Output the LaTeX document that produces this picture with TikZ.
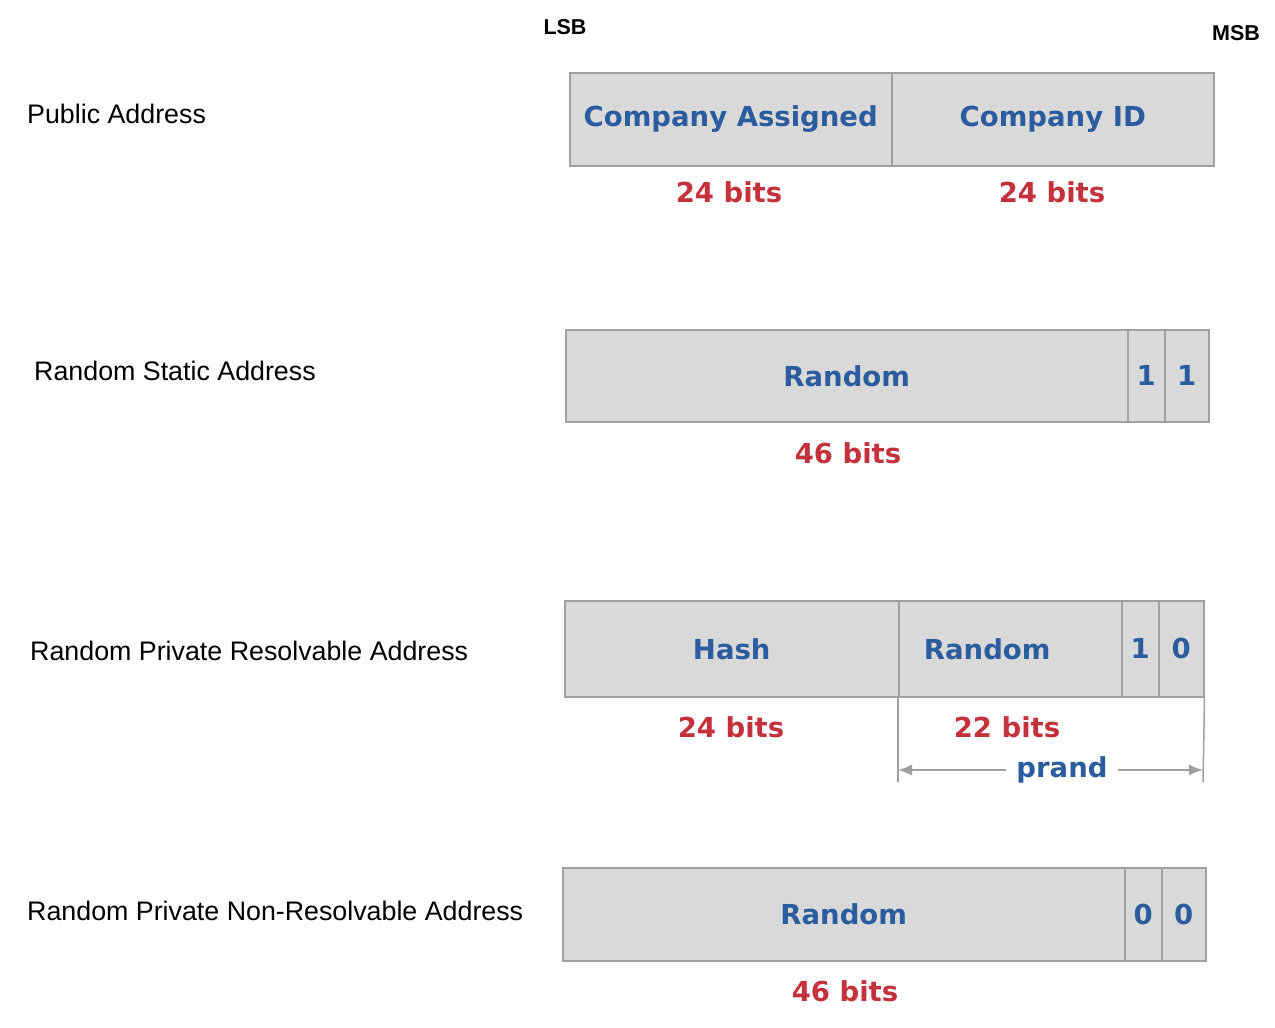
\documentclass[tikz,border=0pt]{standalone}
\usepackage{fontspec}
\setmainfont{Liberation Sans}
\newfontfamily\cellfont{DejaVu Sans}
\usetikzlibrary{arrows.meta,positioning}
\definecolor{cellfill}{HTML}{D9D9D9}
\definecolor{cellline}{HTML}{A0A0A0}
\definecolor{fieldblue}{HTML}{2B5C9E}
\definecolor{bitsred}{HTML}{C4313B}
\begin{document}
\begin{tikzpicture}[x=1pt,y=-1pt,
  cell/.style={draw=cellline,fill=cellfill,line width=1.5pt,anchor=north west,
    minimum height=93pt,inner sep=0pt,text=fieldblue,
    font=\cellfont\bfseries\fontsize{27.5}{30}\selectfont},
  bits/.style={text=bitsred,inner sep=0pt,
    font=\cellfont\bfseries\fontsize{27.5}{30}\selectfont},
  addr/.style={anchor=west,inner sep=0pt,font=\fontsize{26.8}{30}\selectfont},
  edge/.style={font=\bfseries\fontsize{21.5}{24}\selectfont,inner sep=0pt}]
\useasboundingbox (0,0) rectangle (1275,1028);

\node[edge] (lsb) at (565,27) {LSB};
\node[edge] (msb) at (1236,33) {MSB};

% public address
\node[addr] (pub) at (27,114) {Public Address};
\node[cell,minimum width=322pt] (pubca) at (569,72) {Company Assigned};
\node[cell,minimum width=322pt] (pubid) at (891,72) {Company ID};
\node[bits] (pubcabits) at (729,192) {24 bits};
\node[bits] (pubidbits) at (1052,192) {24 bits};

% random static
\node[addr] (rs) at (34,371) {Random Static Address};
\node[cell,minimum width=562pt,minimum height=92pt] (rsrnd) at (565,329) {Random};
\node[cell,minimum width=37pt,minimum height=92pt] (rsa) at (1127,329) {1};
\node[cell,minimum width=44pt,minimum height=92pt] (rsb) at (1164,329) {1};
\node[bits] (rsbits) at (848,453) {46 bits};

% random private resolvable
\node[addr] (rp) at (30,651) {Random Private Resolvable Address};
\node[cell,minimum width=334pt,minimum height=96pt] (rphash) at (564,600) {Hash};
\node[cell,minimum width=223pt,minimum height=96pt] (rprnd) at (898,600) {Random\hspace*{46pt}};
\node[cell,minimum width=37pt,minimum height=96pt] (rpa) at (1121,600) {1};
\node[cell,minimum width=45pt,minimum height=96pt] (rpb) at (1158,600) {0};
\node[bits] (rphashbits) at (731,727) {24 bits};
\node[bits] (rprndbits) at (1007,727) {22 bits};
\coordinate (pl) at (898,782);
\coordinate (pr) at (1203,782);
\draw[cellline,line width=1.5pt] (rprnd.south west) -- (pl);
\draw[cellline,line width=1.5pt] (rpb.south east) -- (pr);
\draw[cellline,line width=1.3pt,{Latex[length=14pt,width=11pt]}-{Latex[length=14pt,width=11pt]}]
  (898,770) -- (1203,770);
\node[bits,text=fieldblue,fill=white,inner xsep=10pt] (prand) at (1062,770) {prand};

% random private non-resolvable
\node[addr] (rn) at (27,911) {Random Private Non-Resolvable Address};
\node[cell,minimum width=562pt] (rnrnd) at (562,867) {Random};
\node[cell,minimum width=37pt] (rna) at (1124,867) {0};
\node[cell,minimum width=44pt] (rnb) at (1161,867) {0};
\node[bits] (rnbits) at (845,991) {46 bits};
\end{tikzpicture}
\end{document}
